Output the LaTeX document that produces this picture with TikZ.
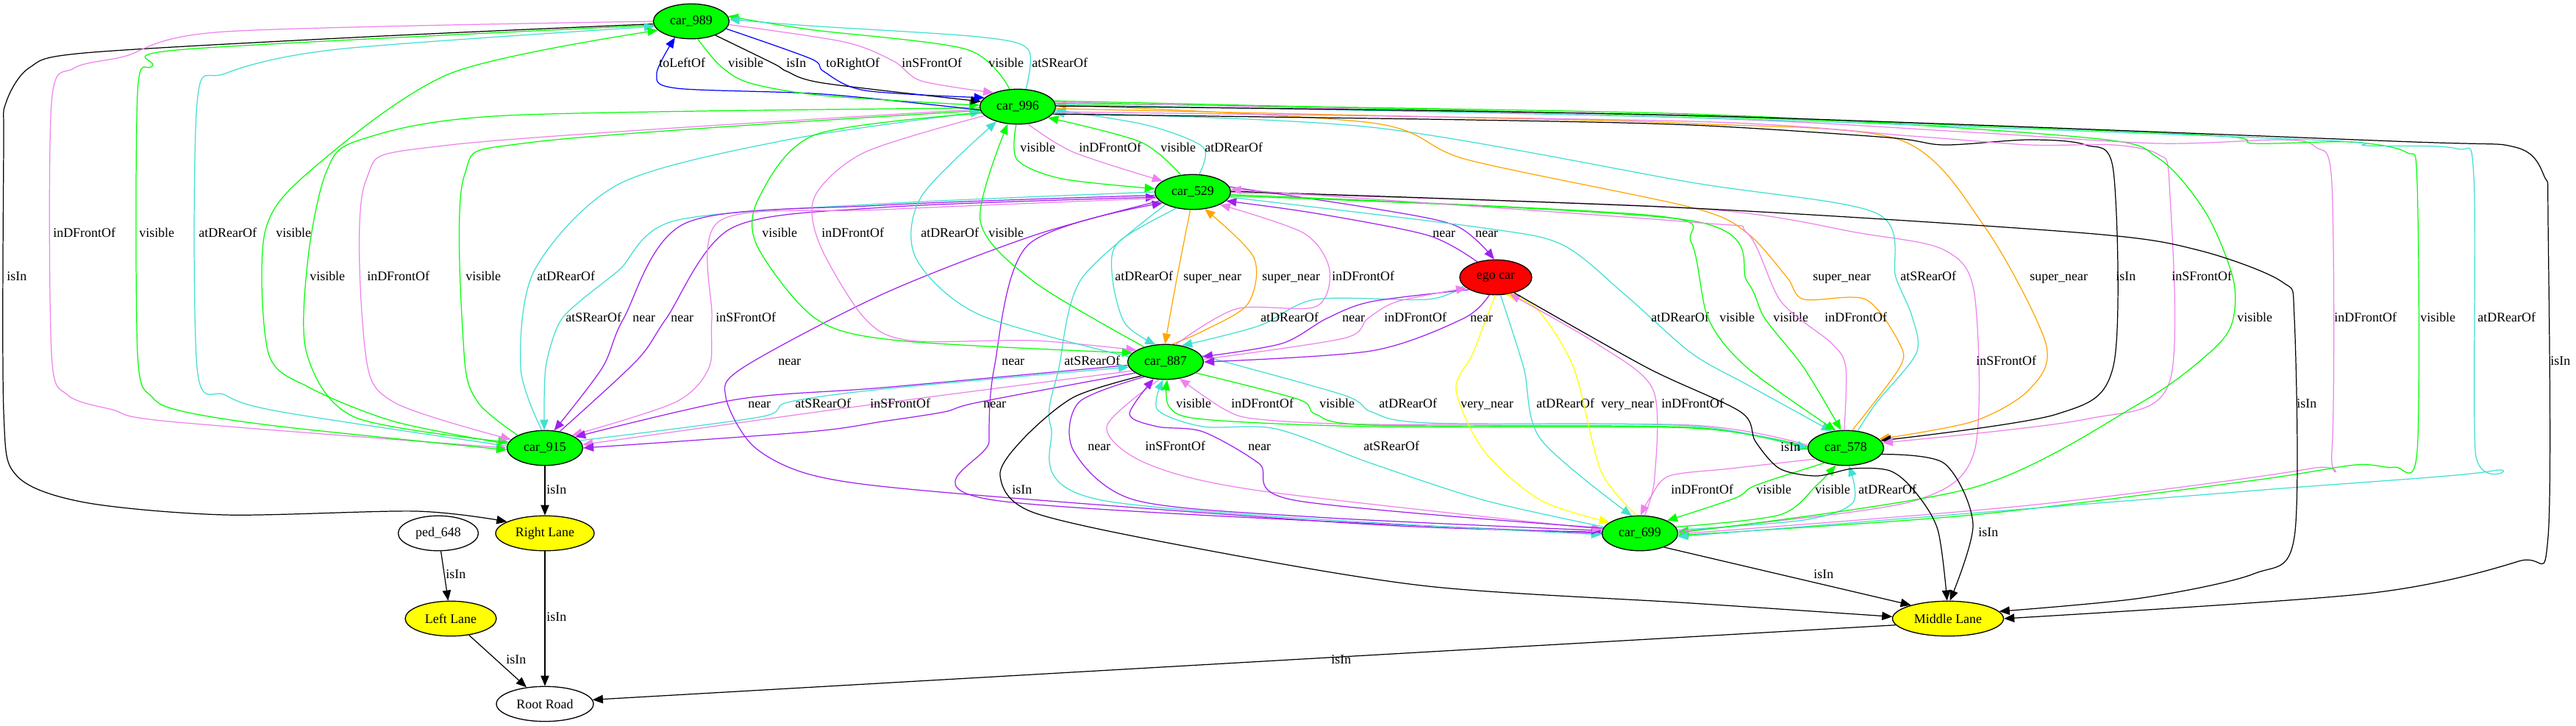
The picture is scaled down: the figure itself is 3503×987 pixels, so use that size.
\documentclass[tikz,border=0pt]{standalone}
\usepackage{fontspec}
\setmainfont{Liberation Serif}
\usetikzlibrary{shapes.geometric,arrows.meta}
\definecolor{cargreen}{RGB}{0,255,0}
\definecolor{egored}{RGB}{255,0,0}
\definecolor{laneyellow}{RGB}{255,255,0}
\definecolor{relviolet}{RGB}{238,130,238}
\definecolor{relturq}{RGB}{64,224,208}
\definecolor{relpurple}{RGB}{160,32,240}
\definecolor{relorange}{RGB}{255,165,0}
\definecolor{relyellow}{RGB}{255,255,0}
\definecolor{relblue}{RGB}{0,0,255}

\begin{document}
\begin{tikzpicture}[x=0.02cm,y=-0.02cm,
  font=\fontsize{10.2}{12}\selectfont,
  obj/.style={ellipse,draw,line width=0.75pt,inner sep=0pt,minimum height=0.95cm},
  car/.style={obj,fill=cargreen,minimum width=2.06cm},
  lane/.style={obj,fill=laneyellow},
  rel/.style={line width=0.7pt,-{Triangle[length=8pt,width=6.5pt]}},
  rvis/.style={rel,cargreen},
  rfront/.style={rel,relviolet},
  rsfront/.style={rel,relviolet},
  rrear/.style={rel,relturq},
  rsrear/.style={rel,relturq},
  rnear/.style={rel,relpurple},
  rsuper/.style={rel,relorange},
  rvery/.style={rel,relyellow},
  risin/.style={rel,black},
  rside/.style={rel,relblue},
  lbl/.style={inner sep=0pt,anchor=west,text height=7pt,text depth=2pt}]
  \fill[white] (0,0) rectangle (3503,987);
  \useasboundingbox (0,0) rectangle (3503,987);

  \node[car] (c989) at (940,29) {car\_989};
  \node[car] (c996) at (1384,145) {car\_996};
  \node[car] (c529) at (1622,261) {car\_529};
  \node[obj,fill=egored,minimum width=1.96cm] (ego) at (2034,377) {ego car};
  \node[car] (c887) at (1585,492) {car\_887};
  \node[car] (c915) at (741,609) {car\_915};
  \node[car] (c578) at (2510,609) {car\_578};
  \node[car] (c699) at (2230,725) {car\_699};
  \node[obj,fill=white,minimum width=2.18cm] (ped) at (596,725) {ped\_648};
  \node[lane,minimum width=2.68cm] (rlane) at (741,725) {Right Lane};
  \node[lane,minimum width=2.48cm] (llane) at (613,841) {Left Lane};
  \node[lane,minimum width=3.02cm] (mlane) at (2649,841) {Middle Lane};
  \node[obj,fill=white,minimum width=2.64cm] (road) at (741,957) {Root Road};

  % car_989 to the left
  \draw[risin] plot[smooth] coordinates {(c989.184) (500,50) (115,72) (40,92) (8,140) (5,200) (5,560) (23,647) (115,683) (306,700) (566,695) (rlane.163)};
  \node[lbl] (lb1) at (9,377) {isIn};
  \draw[rfront] plot[smooth] coordinates {(c989.180) (306,43) (168,77) (100,93) (70,140) (70,480) (92,537) (153,557) (230,573) (c915.180)};
  \node[lbl] (lb2) at (72,318) {inDFrontOf};
  \draw[rvis] plot[smooth] coordinates {(c989.186) (252,67) (207,90) (187,127) (187,480) (207,540) (252,560) (383,580) (c915.183)};
  \node[lbl] (lb3) at (189,318) {visible};
  \draw[rrear] plot[smooth] coordinates {(c915.177) (383,560) (306,537) (268,500) (268,140) (306,100) (459,67) (c989.188)};
  \node[lbl] (lb4) at (270,318) {atDRearOf};
  \draw[rvis] plot[smooth] coordinates {(c915.174) (536,573) (421,527) (365,480) (360,317) (421,233) (612,100) (c989.195)};
  \node[lbl] (lb5) at (375,318) {visible};

  % car_996 and car_915
  \draw[rvis] plot[smooth] coordinates {(c996.182) (689,157) (490,190) (444,233) (419,350) (417,480) (482,567) (c915.171)};
  \node[lbl] (lb6) at (421,377) {visible};
  \draw[rfront] plot[smooth] coordinates {(c996.184) (612,197) (497,247) (497,480) (536,547) (c915.166)};
  \node[lbl] (lb7) at (499,377) {inDFrontOf};
  \draw[rvis] plot[smooth] coordinates {(c915.155) (650,547) (631,480) (631,240) (727,193) (c996.186)};
  \node[lbl] (lb8) at (633,377) {visible};
  \draw[rrear] plot[smooth] coordinates {(c915.100) (708,500) (727,367) (842,250) (1071,190) (c996.188)};
  \node[lbl] (lb9) at (730,377) {atDRearOf};

  % car_529 and car_915
  \draw[rsrear] plot[smooth] coordinates {(c529.180) (1200,277) (918,300) (842,367) (788,410) (760,440) (742,500) (c915.92)};
  \node[lbl] (lb10) at (769,433) {atSRearOf};
  \draw[rnear] plot[smooth] coordinates {(c529.185) (1200,279) (933,303) (848,433) (819,500) (c915.62)};
  \node[lbl] (lb11) at (860,433) {near};
  \draw[rnear] plot[smooth] coordinates {(c915.48) (866,490) (906,433) (995,310) (1200,282) (c529.188)};
  \node[lbl] (lb12) at (912,433) {near};
  \draw[rsfront] plot[smooth] coordinates {(c529.190) (1200,285) (979,300) (968,433) (964,500) (918,547) (c915.25)};
  \node[lbl] (lb13) at (973,433) {inSFrontOf};

  % car_887 and car_915
  \draw[rnear] plot[smooth] coordinates {(c887.185) (1200,527) (1002,543) (c915.20)};
  \node[lbl] (lb14) at (1017,550) {near};
  \draw[rsrear] plot[smooth] coordinates {(c915.12) (1033,567) (1071,547) (1200,529) (c887.188)};
  \node[lbl] (lb15) at (1081,550) {atSRearOf};
  \draw[rsfront] plot[smooth] coordinates {(c887.195) (1163,553) (c915.5)};
  \node[lbl] (lb16) at (1183,550) {inSFrontOf};
  \draw[rnear] plot[smooth] coordinates {(c887.200) (1330,547) (1284,560) (1200,573) (1100,587) (c915.0)};
  \node[lbl] (lb17) at (1337,550) {near};

  % car_529 and car_699
  \draw[rnear] plot[smooth] coordinates {(c529.195) (1406,320) (1200,400) (1010,500) (987,540) (1025,607) (1109,647) (1291,670) (1865,713) (c699.178)};
  \node[lbl] (lb18) at (1058,492) {near};
  \draw[rnear] plot[smooth] coordinates {(c699.180) (1352,680) (1345,600) (1352,500) (1398,333) (c529.200)};
  \node[lbl] (lb19) at (1362,492) {near};
  \draw[rsrear] plot[smooth] coordinates {(c529.205) (1470,380) (1440,500) (1429,580) (1498,680) (c699.182)};
  \node[lbl] (lb20) at (1447,492) {atSRearOf};
  \draw[rsfront] plot[smooth] coordinates {(c529.359) (2300,283) (2530,317) (2644,340) (2685,400) (2685,613) (2606,680) (2376,713) (c699.3)};
  \node[lbl] (lb21) at (2687,492) {inSFrontOf};

  % car_887 and car_699
  \draw[rnear] plot[smooth] coordinates {(c887.215) (1467,547) (1460,613) (1544,680) (1789,703) (c699.176)};
  \node[lbl] (lb22) at (1479,608) {near};
  \draw[rsfront] plot[smooth] coordinates {(c887.250) (1505,580) (1559,630) (1712,667) (c699.174)};
  \node[lbl] (lb23) at (1557,608) {inSFrontOf};
  \draw[rnear] plot[smooth] coordinates {(c699.172) (1760,680) (1712,630) (1636,587) (1574,580) (1536,563) (c887.235)};
  \node[lbl] (lb24) at (1697,608) {near};
  \draw[rsrear] plot[smooth] coordinates {(c699.170) (2018,680) (1865,630) (1735,583) (1636,580) (1574,557) (c887.262)};
  \node[lbl] (lb25) at (1854,608) {atSRearOf};

  % car_578 and car_887
  \draw[rvis] plot[smooth] coordinates {(c578.178) (2300,582) (1865,580) (1636,570) (1590,553) (c887.275)};
  \node[lbl] (lb26) at (1599,550) {visible};
  \draw[rfront] plot[smooth] coordinates {(c578.176) (2300,578) (1865,577) (1712,570) (1666,557) (c887.310)};
  \node[lbl] (lb27) at (1674,550) {inDFrontOf};
  \draw[rvis] plot[smooth] coordinates {(c887.340) (1766,543) (1789,563) (1865,578) (2300,581) (c578.182)};
  \node[lbl] (lb28) at (1794,550) {visible};
  \draw[rrear] plot[smooth] coordinates {(c887.10) (1827,537) (1865,560) (1942,575) (2300,579) (c578.180)};
  \node[lbl] (lb29) at (1875,550) {atDRearOf};

  % car_578 and car_699
  \draw[rfront] plot[smooth] coordinates {(c578.200) (2353,637) (2270,647) (2245,675) (c699.88)};
  \node[lbl] (lb30) at (2272,667) {inDFrontOf};
  \draw[rvis] plot[smooth] coordinates {(c578.215) (2387,660) (2360,677) (c699.25)};
  \node[lbl] (lb31) at (2388,667) {visible};
  \draw[rvis] plot[smooth] coordinates {(c699.10) (2420,700) (2470,660) (c578.240)};
  \node[lbl] (lb32) at (2468,667) {visible};
  \draw[rrear] plot[smooth] coordinates {(c699.5) (2453,707) (2520,683) (c578.280)};
  \node[lbl] (lb33) at (2527,667) {atDRearOf};

  % ego car and car_699
  \draw[rvery] plot[smooth] coordinates {(ego.268) (2003,480) (1980,530) (2018,613) (2095,680) (c699.160)};
  \node[lbl] (lb34) at (1986,550) {very\_near};
  \draw[rrear] plot[smooth] coordinates {(ego.285) (2072,500) (2095,597) (c699.115)};
  \node[lbl] (lb35) at (2089,550) {atDRearOf};
  \draw[rvery] plot[smooth] coordinates {(c699.100) (2177,640) (2140,500) (2090,420) (ego.300)};
  \node[lbl] (lb36) at (2177,550) {very\_near};
  \draw[rfront] plot[smooth] coordinates {(c699.75) (2250,650) (2248,530) (2171,467) (ego.310)};
  \node[lbl] (lb37) at (2259,550) {inDFrontOf};

  % ego car and car_887
  \draw[rrear] plot[smooth] coordinates {(ego.195) (1942,407) (1789,407) (1712,443) (c887.45)};
  \node[lbl] (lb38) at (1714,433) {atDRearOf};
  \draw[rnear] plot[smooth] coordinates {(ego.205) (1865,410) (1804,433) (1743,467) (c887.8)};
  \node[lbl] (lb39) at (1825,433) {near};
  \draw[rfront] plot[smooth] coordinates {(c887.4) (1827,460) (1860,433) (1900,410) (ego.200)};
  \node[lbl] (lb40) at (1882,433) {inDFrontOf};
  \draw[rnear] plot[smooth] coordinates {(ego.250) (1990,433) (1865,477) (c887.0)};
  \node[lbl] (lb41) at (1999,433) {near};

  % ego car and car_529
  \draw[rnear] plot[smooth] coordinates {(ego.140) (1942,320) (1789,290) (c529.345)};
  \node[lbl] (lb42) at (1948,318) {near};
  \draw[rnear] plot[smooth] coordinates {(c529.8) (1865,283) (1980,307) (ego.95)};
  \node[lbl] (lb43) at (2006,318) {near};

  % car_529 and car_887
  \draw[rrear] plot[smooth] coordinates {(c529.225) (1520,330) (1513,380) (1530,440) (c887.120)};
  \node[lbl] (lb44) at (1516,377) {atDRearOf};
  \draw[rsuper] plot[smooth] coordinates {(c529.262) (1600,380) (c887.92)};
  \node[lbl] (lb45) at (1609,377) {super\_near};
  \draw[rsuper] plot[smooth] coordinates {(c887.70) (1636,450) (1697,413) (1705,350) (c529.305)};
  \node[lbl] (lb46) at (1716,377) {super\_near};
  \draw[rfront] plot[smooth] coordinates {(c887.60) (1681,420) (1789,417) (1808,367) (1773,317) (c529.335)};
  \node[lbl] (lb47) at (1811,377) {inDFrontOf};

  % car_996 and car_887
  \draw[rfront] plot[smooth] coordinates {(c996.195) (1176,207) (1108,267) (1115,333) (1176,433) (1238,463) (1406,463) (c887.158)};
  \node[lbl] (lb48) at (1117,318) {inDFrontOf};
  \draw[rvis] plot[smooth] coordinates {(c996.190) (1109,183) (1033,267) (1029,333) (1109,433) (1222,463) (c887.165)};
  \node[lbl] (lb49) at (1036,318) {visible};
  \draw[rrear] plot[smooth] coordinates {(c887.172) (1330,427) (1245,350) (1253,267) (c996.215)};
  \node[lbl] (lb50) at (1252,318) {atDRearOf};
  \draw[rvis] plot[smooth] coordinates {(c887.145) (1406,383) (1333,300) (c996.240)};
  \node[lbl] (lb51) at (1344,318) {visible};

  % car_996 and car_529
  \draw[rvis] plot[smooth] coordinates {(c996.265) (1383,217) (1444,243) (c529.175)};
  \node[lbl] (lb52) at (1387,202) {visible};
  \draw[rfront] plot[smooth] coordinates {(c996.300) (1460,207) (c529.160)};
  \node[lbl] (lb53) at (1467,202) {inDFrontOf};
  \draw[rvis] plot[smooth] coordinates {(c529.125) (1551,193) (c996.340)};
  \node[lbl] (lb54) at (1578,202) {visible};
  \draw[rrear] plot[smooth] coordinates {(c529.70) (1636,200) (1559,170) (c996.355)};
  \node[lbl] (lb55) at (1638,202) {atDRearOf};

  % car_989 and car_996
  \draw[rside] plot[smooth] coordinates {(c996.185) (1120,128) (920,120) (893,100) (c989.225)};
  \node[lbl] (lb56) at (896,87) {toLeftOf};
  \draw[rvis] plot[smooth] coordinates {(c989.290) (980,90) (1020,113) (1120,130) (c996.178)};
  \node[lbl] (lb57) at (990,87) {visible};
  \draw[risin] plot[smooth] coordinates {(c989.330) (1053,87) (1070,97) (1120,113) (c996.172)};
  \node[lbl] (lb58) at (1069,87) {isIn};
  \draw[rside] plot[smooth] coordinates {(c989.348) (1103,80) (1120,97) (1176,123) (c996.165)};
  \node[lbl] (lb59) at (1123,87) {toRightOf};
  \draw[rsfront] plot[smooth] coordinates {(c989.355) (1148,57) (1215,83) (1253,110) (c996.150)};
  \node[lbl] (lb60) at (1226,87) {inSFrontOf};
  \draw[rvis] plot[smooth] coordinates {(c996.115) (1314,67) (1100,40) (c989.8)};
  \node[lbl] (lb61) at (1344,87) {visible};
  \draw[rsrear] plot[smooth] coordinates {(c996.65) (1398,67) (1330,50) (1100,35) (c989.3)};
  \node[lbl] (lb62) at (1403,87) {atSRearOf};

  % car_996 to the right
  \draw[rsrear] plot[smooth] coordinates {(c578.55) (2552,547) (2606,480) (2600,430) (2578,377) (2552,290) (2300,248) (1865,173) (c996.350)};
  \node[lbl] (lb63) at (2584,377) {atSRearOf};
  \draw[rsuper] plot[smooth] coordinates {(c578.70) (2583,500) (2583,467) (2537,407) (2453,407) (2430,377) (2376,317) (2300,282) (1995,217) (1865,167) (c996.3)};
  \node[lbl] (lb64) at (2465,377) {super\_near};
  \draw[rsuper] plot[smooth] coordinates {(c996.357) (2000,160) (2300,168) (2583,190) (2698,307) (2782,467) (2759,530) (2683,573) (c578.15)};
  \node[lbl] (lb65) at (2760,377) {super\_near};
  \draw[risin] plot[smooth] coordinates {(c996.348) (2000,163) (2300,170) (2568,187) (2644,197) (2759,190) (2836,197) (2874,233) (2874,497) (2797,563) (c578.12)};
  \node[lbl] (lb66) at (2877,377) {isIn};
  \draw[rsfront] plot[smooth] coordinates {(c996.352) (2300,165) (2600,185) (2760,197) (2874,197) (2935,210) (2950,250) (2950,520) (2836,570) (c578.8)};
  \node[lbl] (lb67) at (2953,377) {inSFrontOf};
  \draw[rvis] plot[smooth] coordinates {(c996.5) (2300,155) (2836,187) (2935,215) (3000,290) (3037,380) (3035,440) (3004,480) (2912,547) (2683,663) (c699.1)};
  \node[lbl] (lb68) at (3042,433) {visible};
  \draw[rfront] plot[smooth] coordinates {(c996.7) (2300,160) (2683,180) (2935,195) (3103,190) (3149,200) (3171,250) (3171,613) (3142,637) (2759,687) (c699.359)};
  \node[lbl] (lb69) at (3174,433) {inDFrontOf};
  \draw[rvis] plot[smooth] coordinates {(c996.9) (2300,158) (2989,183) (3065,195) (3195,193) (3272,207) (3287,250) (3287,613) (3256,635) (3203,632) (3065,653) (2683,700) (c699.357)};
  \node[lbl] (lb70) at (3291,433) {visible};
  \draw[rrear] plot[smooth] coordinates {(c996.3) (2300,160) (3142,190) (3218,198) (3340,202) (3364,240) (3366,613) (3390,640) (3065,667) (c699.355)};
  \node[lbl] (lb71) at (3369,433) {atDRearOf};
  \draw[risin] plot[smooth] coordinates {(c996.1) (2300,157) (3256,192) (3420,200) (3460,240) (3465,300) (3465,730) (3425,763) (3218,807) (mlane.0)};
  \node[lbl] (lb72) at (3468,492) {isIn};
  \draw[risin] plot[smooth] coordinates {(c529.1) (2300,283) (2836,317) (2989,340) (3103,383) (3120,433) (3120,730) (3065,780) (2912,813) (mlane.8)};
  \node[lbl] (lb73) at (3123,550) {isIn};

  % car_529 and car_578
  \draw[rrear] plot[smooth] coordinates {(c529.352) (2018,310) (2125,333) (2209,400) (2300,480) (2376,523) (c578.130)};
  \node[lbl] (lb74) at (2245,433) {atDRearOf};
  \draw[rvis] plot[smooth] coordinates {(c529.356) (2248,293) (2300,330) (2323,433) (2376,500) (c578.120)};
  \node[lbl] (lb75) at (2338,433) {visible};
  \draw[rvis] plot[smooth] coordinates {(c529.354) (2300,300) (2376,383) (2400,433) (2453,500) (c578.105)};
  \node[lbl] (lb76) at (2411,433) {visible};
  \draw[rfront] plot[smooth] coordinates {(c578.95) (2510,500) (2491,467) (2422,410) (2376,317) (2300,302) (c529.4)};
  \node[lbl] (lb77) at (2481,433) {inDFrontOf};

  % lanes and road
  \draw[risin] plot[smooth] coordinates {(c578.350) (2644,630) (2683,713) (mlane.84)};
  \node[lbl] (lb78) at (2690,725) {isIn};
  \draw[risin] plot[smooth] coordinates {(ego.320) (2240,500) (2367,560) (2387,600) (2420,637) (2470,647) (2520,637) (2570,640) (2603,667) (2635,720) (mlane.93)};
  \node[lbl] (lb79) at (2421,609) {isIn};
  \draw[risin] (c699.330) -- (mlane.160);
  \node[lbl] (lb80) at (2466,782) {isIn};
  \draw[risin] plot[smooth] coordinates {(c887.210) (1460,540) (1391,597) (1360,647) (1406,697) (1636,747) (1942,797) (2300,820) (mlane.178)};
  \node[lbl] (lb81) at (1376,667) {isIn};
  \draw[risin] (mlane.187) -- (road.5);
  \node[lbl] (lb82) at (1810,898) {isIn};
  \draw[risin] (c915) -- (rlane);
  \node[lbl] (lb83) at (743,667) {isIn};
  \draw[risin] (rlane) -- (road);
  \node[lbl] (lb84) at (743,840) {isIn};
  \draw[risin] (ped) -- (llane);
  \node[lbl] (lb85) at (606,782) {isIn};
  \draw[risin] (llane) -- (road);
  \node[lbl] (lb86) at (688,898) {isIn};
\end{tikzpicture}
\end{document}
